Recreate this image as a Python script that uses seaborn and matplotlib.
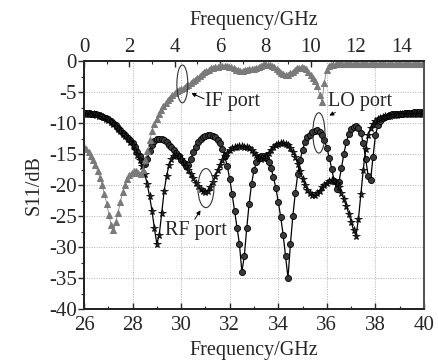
import numpy as np
import pandas as pd
import seaborn as sns
import matplotlib
matplotlib.use("Agg")
import matplotlib.pyplot as plt
from matplotlib.patches import Ellipse
from matplotlib.ticker import MultipleLocator

# ---------------- data ----------------
# RF / LO port: frequency 26-40 GHz (bottom axis), step 0.1 GHz
freq_rf_lo = [round(26 + 0.1 * i, 1) for i in range(141)]

rf_port = [
    -8.5, -8.5, -8.5, -8.6, -8.6, -8.7, -8.8, -8.9, -9.1, -9.3,
    -9.5, -9.8, -10.1, -10.5, -10.9, -11.3, -11.7, -12.1, -12.5, -13.0,
    -13.6, -14.3, -15.1, -16.0, -17.0, -18.2, -19.8, -21.8, -24.2, -27.0,
    -29.5, -28.0, -24.5, -21.0, -18.5, -16.8, -15.8, -15.3, -15.2, -15.4,
    -15.8, -16.3, -16.9, -17.5, -18.2, -18.9, -19.6, -20.2, -20.7, -21.0,
    -21.1, -20.9, -20.3, -19.5, -18.6, -17.6, -16.7, -15.9, -15.3, -14.8,
    -14.4, -14.1, -13.9, -13.8, -13.7, -13.7, -13.8, -13.9, -14.1, -14.4,
    -14.8, -15.2, -15.6, -15.8, -15.7, -15.3, -14.8, -14.3, -13.9, -13.6,
    -13.4, -13.3, -13.3, -13.4, -13.6, -14.0, -14.6, -15.5, -16.6, -17.8,
    -19.0, -20.0, -20.8, -21.3, -21.6, -21.6, -21.3, -20.9, -20.4, -20.0,
    -19.6, -19.3, -19.2, -19.3, -19.7, -20.4, -21.3, -22.3, -23.4, -24.6,
    -25.9, -27.3, -28.2, -25.5, -21.5, -17.5, -14.2, -12.0, -10.8, -10.1,
    -9.7, -9.4, -9.2, -9.0, -8.9, -8.8, -8.8, -8.7, -8.7, -8.7,
    -8.6, -8.6, -8.6, -8.6, -8.6, -8.5, -8.5, -8.5, -8.5, -8.5,
    -8.5,
]

lo_port = [
    -8.4, -8.4, -8.4, -8.5, -8.5, -8.6, -8.7, -8.8, -9.0, -9.2,
    -9.4, -9.7, -10.0, -10.4, -10.8, -11.2, -11.6, -12.0, -12.4, -12.8,
    -13.3, -13.9, -14.6, -15.4, -16.2, -16.6, -15.8, -14.5, -13.5, -12.9,
    -12.6, -12.5, -12.6, -12.8, -13.1, -13.5, -13.9, -14.3, -14.8, -15.3,
    -15.9, -16.5, -17.0, -16.8, -15.8, -14.7, -13.8, -13.1, -12.6, -12.3,
    -12.1, -12.0, -12.0, -12.1, -12.3, -12.7, -13.3, -14.2, -15.4, -17.0,
    -19.0, -21.5, -24.2, -27.0, -29.5, -34.0, -31.5, -27.0, -23.0, -19.8,
    -17.6, -16.3, -15.6, -15.3, -15.3, -15.6, -16.3, -17.3, -18.7, -20.5,
    -22.7, -25.2, -28.0, -31.5, -35.0, -29.5, -25.0, -21.3, -18.3, -16.0,
    -14.3, -13.1, -12.3, -11.9, -11.5, -11.3, -11.2, -11.4, -11.9, -12.8,
    -14.0, -15.6, -17.4, -19.3, -20.6, -19.5, -17.3, -15.0, -13.1, -11.8,
    -11.0, -10.6, -10.5, -10.8, -11.6, -13.2, -15.8, -18.5, -19.2, -15.5,
    -12.0, -10.4, -9.6, -9.2, -9.0, -8.8, -8.7, -8.6, -8.6, -8.5,
    -8.5, -8.5, -8.4, -8.4, -8.4, -8.4, -8.3, -8.3, -8.3, -8.3,
    -8.3,
]

# IF port: frequency 0-15 GHz (top axis), step 0.1 GHz
freq_if = [round(0.1 * i, 1) for i in range(151)]

if_port = [
    -13.8, -14.2, -14.7, -15.3, -16.0, -16.8, -17.7, -18.8, -20.0, -21.5,
    -23.0, -24.8, -26.5, -27.3, -26.0, -24.5, -22.8, -21.2, -20.0, -19.0,
    -18.4, -18.0, -17.7, -17.8, -18.1, -18.2, -17.5, -16.0, -14.5, -12.8,
    -11.3, -10.2, -9.3, -8.5, -7.9, -7.3, -6.8, -6.3, -5.9, -5.5,
    -5.2, -4.9, -4.7, -4.5, -4.3, -4.1, -3.9, -3.6, -3.3, -3.0,
    -2.7, -2.4, -2.1, -1.8, -1.6, -1.4, -1.2, -1.1, -1.0, -0.9,
    -0.8, -0.8, -0.8, -0.8, -0.9, -1.0, -1.2, -1.4, -1.5, -1.6,
    -1.6, -1.5, -1.4, -1.3, -1.3, -1.3, -1.2, -1.0, -0.8, -0.6,
    -0.5, -0.6, -0.7, -0.8, -1.0, -1.3, -1.6, -1.9, -2.1, -2.2,
    -2.2, -2.0, -1.8, -1.5, -1.2, -1.1, -1.0, -1.1, -1.3, -1.7,
    -2.2, -2.8, -3.3, -4.0, -5.5, -6.6, -3.5, -1.5, -0.8, -0.6,
    -0.6, -0.5, -0.5, -0.5, -0.5, -0.5, -0.5, -0.5, -0.5, -0.5,
    -0.5, -0.5, -0.5, -0.5, -0.5, -0.5, -0.5, -0.5, -0.5, -0.5,
    -0.5, -0.5, -0.5, -0.5, -0.5, -0.5, -0.5, -0.5, -0.5, -0.5,
    -0.5, -0.5, -0.5, -0.5, -0.5, -0.5, -0.5, -0.5, -0.5, -0.5,
    -0.5,
]

bottom_ticks = [26, 28, 30, 32, 34, 36, 38, 40]
top_ticks = [0, 2, 4, 6, 8, 10, 12, 14]
y_ticks = [-40, -35, -30, -25, -20, -15, -10, -5, 0]

df_rl = pd.DataFrame({"f": freq_rf_lo, "rf": rf_port, "lo": lo_port})
df_if = pd.DataFrame({"f": freq_if, "s11": if_port})

# ---------------- style ----------------
sns.set_style("ticks")
plt.rcParams["font.family"] = ["Liberation Serif", "DejaVu Serif"]
plt.rcParams["axes.unicode_minus"] = False

TICK_FS = 15
LABEL_FS = 14.5

fig = plt.figure(figsize=(4.38, 3.63), dpi=100)
ax = fig.add_axes([84 / 438, 1 - 309 / 363, 340 / 438, 248 / 363])

sns.lineplot(data=df_rl, x="f", y="lo", ax=ax, color="black", linewidth=0.9,
             marker="o", markersize=4.4, markerfacecolor="#3a3a3a",
             markeredgecolor="black", markeredgewidth=0.6, zorder=3)
sns.lineplot(data=df_rl, x="f", y="rf", ax=ax, color="black", linewidth=0.9,
             marker="*", markersize=5.8, markerfacecolor="#222222",
             markeredgecolor="black", markeredgewidth=0.5, zorder=4)

ax.set_xlim(26, 40)
ax.set_ylim(-40, 0)
ax.set_xticks(bottom_ticks)
ax.set_yticks(y_ticks)
ax.xaxis.set_minor_locator(MultipleLocator(1))
ax.yaxis.set_minor_locator(MultipleLocator(2.5))
ax.grid(True, which="major", linestyle=(0, (1, 1.5)), color="#b0b0b0", linewidth=0.7)
ax.set_xlabel("Frequency/GHz", fontsize=LABEL_FS, labelpad=4)
ax.set_ylabel("S11/dB", fontsize=LABEL_FS, labelpad=4)
ax.tick_params(axis="x", which="both", direction="in", labelsize=TICK_FS, pad=5)
ax.tick_params(axis="x", which="major", length=4, width=1)
ax.tick_params(axis="x", which="minor", length=2.5, width=0.8)
ax.tick_params(axis="y", which="both", direction="out", labelsize=TICK_FS, pad=1)
ax.tick_params(axis="y", which="major", length=4, width=1)
ax.tick_params(axis="y", which="minor", length=2.5, width=0.8)
for s in ax.spines.values():
    s.set_linewidth(1.4)
    s.set_color("black")

ax2 = ax.twiny()
sns.lineplot(data=df_if, x="f", y="s11", ax=ax2, color="#808080", linewidth=0.6,
             marker="^", markersize=5.0, markerfacecolor="#7a7a7a",
             markeredgecolor="#7a7a7a", zorder=2)
ax2.set_xlim(0, 15)
ax2.set_ylim(-40, 0)
ax2.set_xticks(top_ticks)
ax2.xaxis.set_minor_locator(MultipleLocator(1))
ax2.set_xlabel("Frequency/GHz", fontsize=LABEL_FS, labelpad=9)
ax2.set_ylabel("")
ax2.tick_params(axis="x", which="both", direction="in", labelsize=TICK_FS, pad=3)
ax2.tick_params(axis="x", which="major", length=4, width=1)
ax2.tick_params(axis="x", which="minor", length=2.5, width=0.8)
for s in ax2.spines.values():
    s.set_linewidth(1.4)
ax2.spines["right"].set_color("#555555")

# ---------------- annotations ----------------
for (cx, cy, w, h) in [(30.05, -3.7, 0.45, 6.1), (35.67, -11.6, 0.5, 6.5), (31.02, -20.5, 0.66, 6.3)]:
    ax2.add_patch(Ellipse((cx, cy), w, h, transform=ax.transData,
                          fill=False, edgecolor="#333333", linewidth=0.8, zorder=6))

ax.annotate("", xy=(30.32, -5.0), xytext=(31.05, -6.3),
            arrowprops=dict(arrowstyle="-|>", color="black", lw=0.7, mutation_scale=6), zorder=7)
ax.annotate("", xy=(36.0, -9.0), xytext=(36.45, -8.1),
            arrowprops=dict(arrowstyle="-|>", color="black", lw=0.7, mutation_scale=6), zorder=7)
ax.annotate("", xy=(30.86, -23.7), xytext=(30.5, -25.9),
            arrowprops=dict(arrowstyle="-|>", color="black", lw=0.7, mutation_scale=6), zorder=7)

ax2.text(31.0, -6.5, "IF port", transform=ax.transData, fontsize=LABEL_FS, va="center", ha="left", zorder=8)
ax2.text(36.05, -6.6, "LO port", transform=ax.transData, fontsize=LABEL_FS, va="center", ha="left", zorder=8)
ax2.text(29.33, -27.3, "RF port", transform=ax.transData, fontsize=LABEL_FS, va="center", ha="left", zorder=8)

fig.savefig("out.png", dpi=100)
